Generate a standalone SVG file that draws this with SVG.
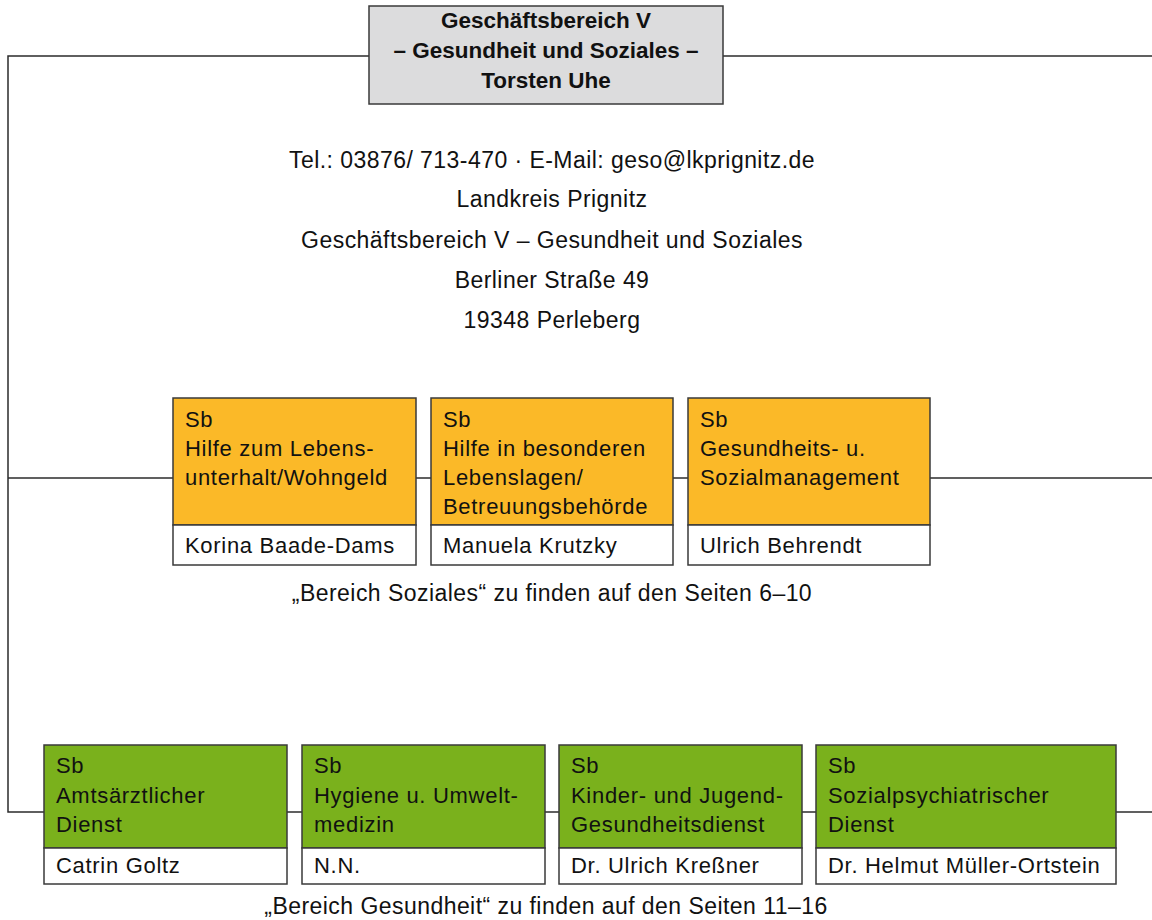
<svg xmlns="http://www.w3.org/2000/svg" width="1152" height="920" viewBox="0 0 1152 920">
<style>
.conn{fill:none;stroke:#2b2b2b;stroke-width:1.5}
.box{stroke:#3a3a3a;stroke-width:1.5}
.head{fill:#dcdcdd}
.or{fill:#fbb928}
.gr{fill:#7ab11c}
.wh{fill:#ffffff}
text{font-family:"Liberation Sans",Arial,Helvetica,sans-serif;fill:#111}
.b{font-size:22.5px;font-weight:bold;text-anchor:middle}
.m{font-size:23px;letter-spacing:0.45px;text-anchor:middle}
.t{font-size:22px;letter-spacing:0.7px}
</style>
<rect width="1152" height="920" fill="#ffffff"/>
<g id="connectors">
<polyline class="conn" points="369,56 8,56 8,812 44,812"/>
<line class="conn" x1="723" y1="56" x2="1152" y2="56"/>
<line class="conn" x1="8" y1="478" x2="173" y2="478"/>
<line class="conn" x1="416" y1="478" x2="431" y2="478"/>
<line class="conn" x1="673" y1="478" x2="688" y2="478"/>
<line class="conn" x1="930" y1="478" x2="1152" y2="478"/>
<line class="conn" x1="287" y1="812" x2="302" y2="812"/>
<line class="conn" x1="545" y1="812" x2="559" y2="812"/>
<line class="conn" x1="802" y1="812" x2="816" y2="812"/>
<line class="conn" x1="1116" y1="812" x2="1152" y2="812"/>
</g>
<g id="head">
<rect class="box head" x="369" y="6" width="354" height="98"/>
<text class="b" x="546" y="28">Geschäftsbereich V</text>
<text class="b" x="546" y="58">– Gesundheit und Soziales –</text>
<text class="b" x="546" y="88">Torsten Uhe</text>
</g>
<g id="address">
<text class="m" x="552" y="168">Tel.: 03876/ 713-470 · E-Mail: geso@lkprignitz.de</text>
<text class="m" x="552" y="207">Landkreis Prignitz</text>
<text class="m" x="552" y="248">Geschäftsbereich V – Gesundheit und Soziales</text>
<text class="m" x="552" y="288">Berliner Straße 49</text>
<text class="m" x="552" y="328">19348 Perleberg</text>
</g>
<g id="sb-hilfe-lebensunterhalt">
<rect class="box or" x="173" y="398" width="243" height="127"/>
<rect class="box wh" x="173" y="525" width="243" height="40"/>
<text class="t" x="185" y="427">Sb</text>
<text class="t" x="185" y="456">Hilfe zum Lebens-</text>
<text class="t" x="185" y="485">unterhalt/Wohngeld</text>
<text class="t" x="185" y="553">Korina Baade-Dams</text>
</g>
<g id="sb-hilfe-lebenslagen">
<rect class="box or" x="431" y="398" width="242" height="127"/>
<rect class="box wh" x="431" y="525" width="242" height="40"/>
<text class="t" x="443" y="427">Sb</text>
<text class="t" x="443" y="456">Hilfe in besonderen</text>
<text class="t" x="443" y="485">Lebenslagen/</text>
<text class="t" x="443" y="514">Betreuungsbehörde</text>
<text class="t" x="443" y="553">Manuela Krutzky</text>
</g>
<g id="sb-gesundheits-sozialmanagement">
<rect class="box or" x="688" y="398" width="242" height="127"/>
<rect class="box wh" x="688" y="525" width="242" height="40"/>
<text class="t" x="700" y="427">Sb</text>
<text class="t" x="700" y="456">Gesundheits- u.</text>
<text class="t" x="700" y="485">Sozialmanagement</text>
<text class="t" x="700" y="553">Ulrich Behrendt</text>
</g>
<text class="m" x="552" y="601">„Bereich Soziales“ zu finden auf den Seiten 6–10</text>
<g id="sb-amtsaerztlicher-dienst">
<rect class="box gr" x="44" y="745" width="243" height="103"/>
<rect class="box wh" x="44" y="848" width="243" height="36"/>
<text class="t" x="56" y="773">Sb</text>
<text class="t" x="56" y="803">Amtsärztlicher</text>
<text class="t" x="56" y="832">Dienst</text>
<text class="t" x="56" y="873">Catrin Goltz</text>
</g>
<g id="sb-hygiene">
<rect class="box gr" x="302" y="745" width="243" height="103"/>
<rect class="box wh" x="302" y="848" width="243" height="36"/>
<text class="t" x="314" y="773">Sb</text>
<text class="t" x="314" y="803">Hygiene u. Umwelt-</text>
<text class="t" x="314" y="832">medizin</text>
<text class="t" x="314" y="873">N.N.</text>
</g>
<g id="sb-kinder-jugend">
<rect class="box gr" x="559" y="745" width="243" height="103"/>
<rect class="box wh" x="559" y="848" width="243" height="36"/>
<text class="t" x="571" y="773">Sb</text>
<text class="t" x="571" y="803">Kinder- und Jugend-</text>
<text class="t" x="571" y="832">Gesundheitsdienst</text>
<text class="t" x="571" y="873">Dr. Ulrich Kreßner</text>
</g>
<g id="sb-sozialpsychiatrischer-dienst">
<rect class="box gr" x="816" y="745" width="300" height="103"/>
<rect class="box wh" x="816" y="848" width="300" height="36"/>
<text class="t" x="828" y="773">Sb</text>
<text class="t" x="828" y="803">Sozialpsychiatrischer</text>
<text class="t" x="828" y="832">Dienst</text>
<text class="t" x="828" y="873">Dr. Helmut Müller-Ortstein</text>
</g>
<text class="m" x="546" y="914">„Bereich Gesundheit“ zu finden auf den Seiten 11–16</text>
</svg>
